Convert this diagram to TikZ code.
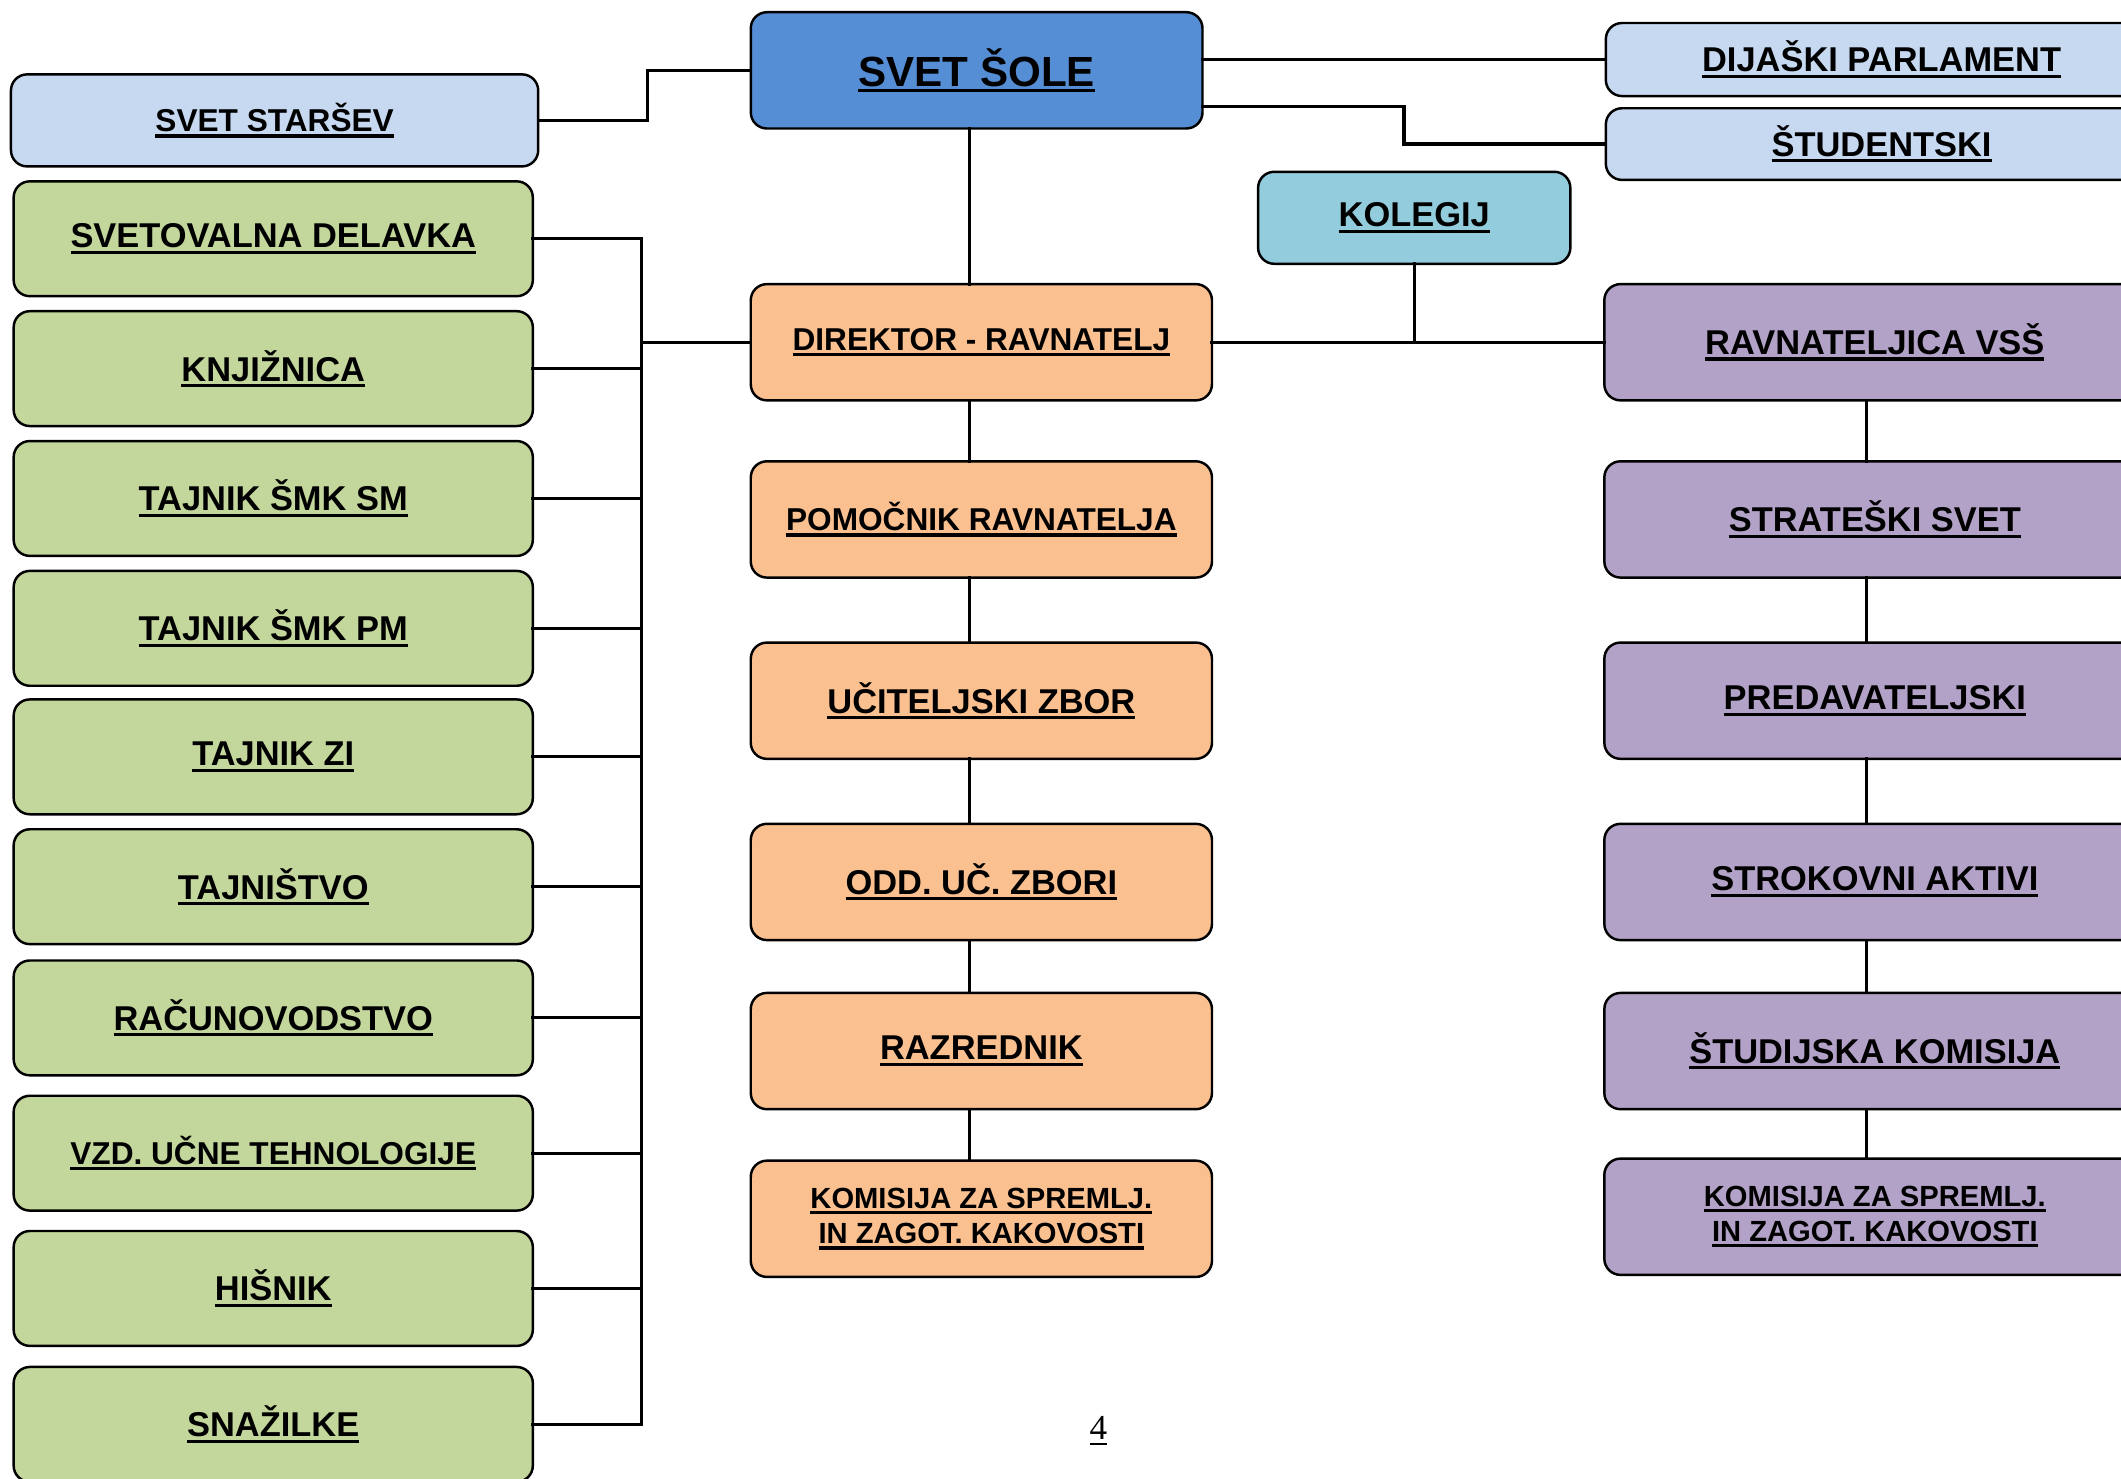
\documentclass[tikz,border=0pt]{standalone}
\usepackage{fontspec}
\setmainfont{Liberation Sans}
\newfontfamily\pagefont{Liberation Serif}
\usepackage{tikz}
\usetikzlibrary{positioning}

% thick underline
\newcommand{\uline}[1]{\leavevmode\setbox0\hbox{#1}\rlap{\rule[-1.7pt]{\wd0}{0.9pt}}\box0}

\definecolor{svetblue}{RGB}{85,142,213}
\definecolor{paleblue}{RGB}{198,217,241}
\definecolor{staffgreen}{RGB}{195,214,155}
\definecolor{leadorange}{RGB}{250,192,144}
\definecolor{vssviolet}{RGB}{179,162,199}
\definecolor{kolegijcyan}{RGB}{147,205,221}

\tikzset{
	unit/.style={draw,rounded corners=4.6pt,line width=0.7pt,inner sep=0pt,outer sep=0pt,align=center,font=\bfseries\fontsize{9.8}{11.8}\selectfont},
	hub/.style={unit,fill=svetblue,minimum width=128.6pt,minimum height=33.1pt,font=\bfseries\fontsize{12}{14}\selectfont},
	council/.style={unit,fill=paleblue},
	staff/.style={unit,fill=staffgreen,minimum width=147.8pt,minimum height=32.7pt},
	lead/.style={unit,fill=leadorange,minimum width=131.3pt,minimum height=33.1pt},
	college/.style={unit,fill=vssviolet,minimum width=154pt,minimum height=33.1pt},
	smaller/.style={font=\bfseries\fontsize{9}{11}\selectfont},
	smallest/.style={font=\bfseries\fontsize{8.3}{10}\selectfont},
	link/.style={line width=0.9pt,line cap=rect}
}

\begin{document}
\begin{tikzpicture}[x=0.013527cm,y=-0.013527cm]
		\useasboundingbox (0,0) rectangle (1568,1093);
		% councils
		\node(svet) [hub] at (722,52) {\uline{SVET ŠOLE}};
		\node(starsev) [council,smaller,minimum width=150.1pt,minimum height=26.2pt] at (203,89) {\uline{SVET STARŠEV}};
		\node(parlament) [council,minimum width=157pt,minimum height=20.8pt] at (1391,44) {\uline{DIJAŠKI PARLAMENT}};
		\node(studentski) [council,minimum width=157pt,minimum height=20.4pt] at (1391,106.5) {\uline{ŠTUDENTSKI}};
		\node(kolegij) [unit,fill=kolegijcyan,minimum width=88.9pt,minimum height=26.2pt] at (1045.5,161) {\uline{KOLEGIJ}};
		% school
		\node(direktor) [lead,smaller] at (725.5,253) {\uline{DIREKTOR - RAVNATELJ}};
		\node(pomocnik) [lead,smaller] at (725.5,384) {\uline{POMOČNIK RAVNATELJA}};
		\node(zbor) [lead] at (725.5,518) {\uline{UČITELJSKI ZBOR}};
		\node(oddzbori) [lead] at (725.5,652) {\uline{ODD. UČ. ZBORI}};
		\node(razrednik) [lead] at (725.5,777) {\uline{RAZREDNIK}};
		\node(komisija) [lead,smallest] at (725.5,901) {\uline{KOMISIJA ZA SPREMLJ.}\\\uline{IN ZAGOT. KAKOVOSTI}};
		% college
		\node(ravnateljica) [college] at (1386,253) {\uline{RAVNATELJICA VSŠ}};
		\node(strateski) [college] at (1386,384) {\uline{STRATEŠKI SVET}};
		\node(predavateljski) [college] at (1386,518) {\uline{PREDAVATELJSKI}};
		\node(aktivi) [college] at (1386,652) {\uline{STROKOVNI AKTIVI}};
		\node(studijska) [college] at (1386,777) {\uline{ŠTUDIJSKA KOMISIJA}};
		\node(komisijavss) [college,smallest] at (1386,899.5) {\uline{KOMISIJA ZA SPREMLJ.}\\\uline{IN ZAGOT. KAKOVOSTI}};
		% staff
		\node(svetovalna) [staff] at (202,176.5) {\uline{SVETOVALNA DELAVKA}};
		\node(knjiznica) [staff] at (202,272.5) {\uline{KNJIŽNICA}};
		\node(tajsm) [staff] at (202,368.5) {\uline{TAJNIK ŠMK SM}};
		\node(tajpm) [staff] at (202,464.5) {\uline{TAJNIK ŠMK PM}};
		\node(tajzi) [staff] at (202,559.5) {\uline{TAJNIK ZI}};
		\node(tajnistvo) [staff] at (202,655.5) {\uline{TAJNIŠTVO}};
		\node(racun) [staff] at (202,752.5) {\uline{RAČUNOVODSTVO}};
		\node(vzd) [staff,smaller] at (202,852.5) {\uline{VZD. UČNE TEHNOLOGIJE}};
		\node(hisnik) [staff] at (202,952.5) {\uline{HIŠNIK}};
		\node(snazilke) [staff] at (202,1053) {\uline{SNAŽILKE}};
		\node(pagenum) at (812,1058) {\pagefont\fontsize{10}{12}\selectfont\underline{4}};
		% connectors
		\coordinate(lbus) at (474,0);
		\coordinate(cspine) at (717,0);
		\coordinate(rspine) at (1380,0);
		\draw[link] (starsev.east) -- ++(81,0) |- (svet.west);
		\draw[link] (svet.east |- parlament.west) -- (parlament.west);
		\draw[link] ([yshift=-10.4pt]svet.east) -- ++(149,0) |- (studentski.west);
		\draw[link] (svet.south -| cspine) -- (direktor.north -| cspine);
		\foreach \a/\b in {direktor/pomocnik,pomocnik/zbor,zbor/oddzbori,oddzbori/razrednik,razrednik/komisija}
			\draw[link] (\a.south -| cspine) -- (\b.north -| cspine);
		\foreach \a/\b in {ravnateljica/strateski,strateski/predavateljski,predavateljski/aktivi,aktivi/studijska,studijska/komisijavss}
			\draw[link] (\a.south -| rspine) -- (\b.north -| rspine);
		\draw[link] (direktor.east) -- (ravnateljica.west);
		\draw[link] (kolegij.south) -- (kolegij.south |- direktor.east);
		\draw[link] (direktor.west) -- (direktor.west -| lbus);
		\foreach \g in {svetovalna,knjiznica,tajsm,tajpm,tajzi,tajnistvo,racun,vzd,hisnik,snazilke}
			\draw[link] (\g.east) -- (\g.east -| lbus);
		\draw[link] (svetovalna.east -| lbus) -- (snazilke.east -| lbus);
	\end{tikzpicture}
\end{document}
